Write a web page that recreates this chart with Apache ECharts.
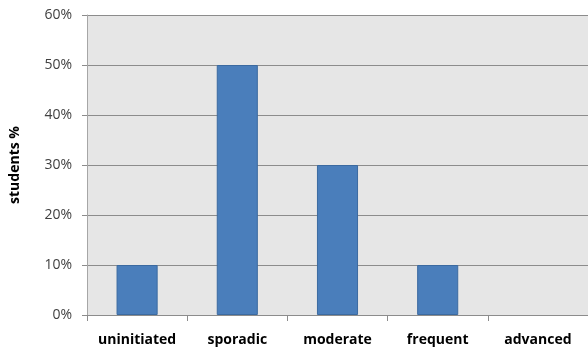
<!DOCTYPE html>
<html><head><meta charset="utf-8">
<script src="https://cdn.jsdelivr.net/npm/echarts@6/dist/echarts.min.js"></script>
<style>html,body{margin:0;padding:0;background:#fff}#c{width:588px;height:356px}</style>
</head><body><div id="c"></div>
<script>
const categories = ['uninitiated', 'sporadic', 'moderate', 'frequent', 'advanced'];
const studentsPct = [10, 50, 30, 10, 0];
const yTicks = [0, 10, 20, 30, 40, 50, 60];

const chart = echarts.init(document.getElementById('c'), null, {renderer: 'canvas'});
chart.setOption({
  animation: false,
  backgroundColor: '#ffffff',
  grid: {left: 85, right: -2, top: 15, bottom: 41, show: true, backgroundColor: '#e6e6e6', borderWidth: 0},
  xAxis: {
    type: 'category', data: categories,
    axisLine: {show: true, lineStyle: {color: '#8c8c8c', width: 1}},
    axisTick: {show: true, interval: 0, length: 6, alignWithLabel: false, lineStyle: {color: '#8c8c8c'}},
    axisLabel: {interval: 0, hideOverlap: false, color: '#000', fontFamily: 'Open Sans', fontWeight: 'bold', fontSize: 14, margin: 18}
  },
  yAxis: {
    type: 'value', min: yTicks[0], max: yTicks[yTicks.length - 1], interval: 10,
    name: 'students %', nameLocation: 'middle', nameGap: 65, nameRotate: 90,
    nameTextStyle: {color: '#000', fontFamily: 'Open Sans', fontWeight: 'bold', fontSize: 14},
    axisLine: {show: true, lineStyle: {color: '#a6a6a6', width: 1}},
    axisTick: {show: true, length: 5, lineStyle: {color: '#8c8c8c'}},
    axisLabel: {color: '#404040', fontFamily: 'Open Sans', fontSize: 14, margin: 15, formatter: v => v + '%'},
    splitLine: {show: true, lineStyle: {color: '#8c8c8c', width: 1}}
  },
  series: [{
    type: 'bar',
    data: studentsPct.map(v => v === 0 ? {value: v, itemStyle: {borderWidth: 0, opacity: 0}} : v),
    barWidth: '41%',
    itemStyle: {color: '#4a7ebb', borderColor: '#3b6aa0', borderWidth: 1}
  }]
});
</script></body></html>
